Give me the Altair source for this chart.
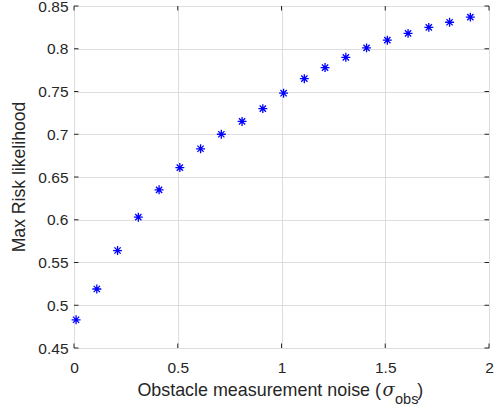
import altair as alt
import pandas as pd

# Observation noise levels and resulting maximum risk likelihood
noise = [0.01, 0.11, 0.21, 0.31, 0.41, 0.51, 0.61, 0.71, 0.81, 0.91,
         1.01, 1.11, 1.21, 1.31, 1.41, 1.51, 1.61, 1.71, 1.81, 1.91]
risk = [0.483, 0.519, 0.564, 0.603, 0.635, 0.661, 0.683, 0.700, 0.715, 0.730,
        0.748, 0.765, 0.778, 0.790, 0.801, 0.810, 0.818, 0.825, 0.831, 0.837]

x_ticks = [0, 0.5, 1, 1.5, 2]
y_ticks = [0.45, 0.5, 0.55, 0.6, 0.65, 0.7, 0.75, 0.8, 0.85]

W, H = 415, 342
FONT = "Liberation Sans"
INK = "#262626"
TICK_LEN = 4.5

df = pd.DataFrame({"noise": noise, "risk": risk})
xt = pd.DataFrame({"v": x_ticks})
yt = pd.DataFrame({"v": y_ticks})

xscale = alt.Scale(domain=[0, 2], nice=False, zero=False)
yscale = alt.Scale(domain=[0.45, 0.85], nice=False, zero=False)

x_axis = alt.Axis(values=x_ticks, format="~g", grid=True, gridColor="#dedede",
                  gridWidth=1, domain=False, ticks=False, labelPadding=12,
                  labelFlush=False, labelOverlap=False,
                  labelFont=FONT, labelFontSize=15.5, labelColor=INK, title=None)
y_axis = alt.Axis(values=y_ticks, format=".2~f", grid=True, gridColor="#dedede",
                  gridWidth=1, domain=False, ticks=False, labelPadding=6,
                  labelFlush=False, labelOverlap=False,
                  labelFont=FONT, labelFontSize=15.5, labelColor=INK, title=None)

# asterisk marker: plus and cross overlaid
asterisk = "M-1,0L1,0M0,-1L0,1M-0.7,-0.7L0.7,0.7M-0.7,0.7L0.7,-0.7"

points = alt.Chart(df).mark_point(
    shape=asterisk, size=80, filled=False, color="#0000ff", strokeWidth=1.3, opacity=1
).encode(
    x=alt.X("noise:Q", scale=xscale, axis=x_axis),
    y=alt.Y("risk:Q", scale=yscale, axis=y_axis),
)

# inward tick marks on all four sides of the box
tick_style = dict(color=INK, strokeWidth=1)
xb = alt.Chart(xt).mark_rule(**tick_style).encode(
    x=alt.X("v:Q", scale=xscale), y=alt.value(H), y2=alt.value(H - TICK_LEN))
xtop = alt.Chart(xt).mark_rule(**tick_style).encode(
    x=alt.X("v:Q", scale=xscale), y=alt.value(0), y2=alt.value(TICK_LEN))
yl = alt.Chart(yt).mark_rule(**tick_style).encode(
    y=alt.Y("v:Q", scale=yscale), x=alt.value(0), x2=alt.value(TICK_LEN))
yr = alt.Chart(yt).mark_rule(**tick_style).encode(
    y=alt.Y("v:Q", scale=yscale), x=alt.value(W), x2=alt.value(W - TICK_LEN))

# axis titles (x title carries a subscripted sigma)
xt_main = alt.Chart(pd.DataFrame({"t": ["Obstacle measurement noise ("]})).mark_text(
    font=FONT, fontSize=17.9, color=INK, align="right", baseline="alphabetic"
).encode(text="t:N", x=alt.value(307), y=alt.value(390))
xt_sigma = alt.Chart(pd.DataFrame({"t": ["σ"]})).mark_text(
    font="DejaVu Serif", fontSize=18, fontStyle="italic", color=INK,
    align="left", baseline="alphabetic"
).encode(text="t:N", x=alt.value(308.5), y=alt.value(389.5))
xt_sub = alt.Chart(pd.DataFrame({"t": ["obs"]})).mark_text(
    font=FONT, fontSize=14.5, color=INK, align="left", baseline="alphabetic"
).encode(text="t:N", x=alt.value(321), y=alt.value(397.5))
xt_close = alt.Chart(pd.DataFrame({"t": [")"]})).mark_text(
    font=FONT, fontSize=17.9, color=INK, align="left", baseline="alphabetic"
).encode(text="t:N", x=alt.value(343.3), y=alt.value(390))
yt_title = alt.Chart(pd.DataFrame({"t": ["Max Risk likelihood"]})).mark_text(
    font=FONT, fontSize=17.6, color=INK, align="center", baseline="middle", angle=270
).encode(text="t:N", x=alt.value(-54), y=alt.value(H / 2))

chart = alt.layer(
    points, xb, xtop, yl, yr, xt_main, xt_sigma, xt_sub, xt_close, yt_title
).properties(
    width=W, height=H,
    autosize=alt.AutoSizeParams(type="none"),
    padding={"left": 74, "top": 6, "right": 9, "bottom": 61},
).configure_view(
    stroke=INK, strokeWidth=1, fill="white"
).configure(background="white")

chart.save("out.html", embed_options={"renderer": "svg", "actions": False})
